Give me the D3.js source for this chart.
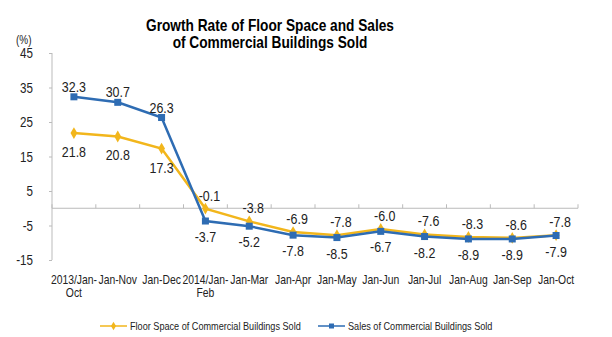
<!DOCTYPE html>
<html><head><meta charset="utf-8">
<script src="https://cdn.jsdelivr.net/npm/d3@7"></script>
<style>body{margin:0;background:#fff}svg{display:block}text{font-family:"Liberation Sans",Arial,sans-serif}</style>
</head><body><svg id="c" width="612" height="337"></svg>
<script>
const categories = [["2013/Jan-","Oct"],["Jan-Nov"],["Jan-Dec"],["2014/Jan-","Feb"],["Jan-Mar"],["Jan-Apr"],["Jan-May"],["Jan-Jun"],["Jan-Jul"],["Jan-Aug"],["Jan-Sep"],["Jan-Oct"]];
const floorSpace = [21.8,20.8,17.3,-0.1,-3.8,-6.9,-7.8,-6.0,-7.6,-8.3,-8.6,-7.8];
const sales = [32.3,30.7,26.3,-3.7,-5.2,-7.8,-8.5,-6.7,-8.2,-8.9,-8.9,-7.9];
const yTicks = [45,35,25,15,5,-5,-15];
const seriesNames = ["Floor Space of Commercial Buildings Sold","Sales of Commercial Buildings  Sold"];
const colors = ["#F2B61C","#2E6CB3"];

const SX = 0.83;
const svg = d3.select("#c");
function txt(parent, x0, y0, s, size, anchor, bold){
  return parent.append("text").attr("transform",`translate(${x0},${y0}) scale(${SX},1)`)
    .attr("font-size",size).attr("text-anchor",anchor||"start").attr("fill","#222")
    .attr("font-weight",bold?"bold":"normal").text(s);
}
const x = d3.scaleBand().domain(d3.range(categories.length)).range([52,578]);
const y = d3.scaleLinear().domain([-15,45]).range([260,53]);

// title
txt(svg,270,31,"Growth Rate of Floor Space and Sales",16.5,"middle",true).attr("fill","#000");
txt(svg,270,48,"of Commercial Buildings Sold",16.5,"middle",true).attr("fill","#000");
txt(svg,16,44,"(%)",12);

// y axis
const ya = svg.append("g").attr("transform","translate(52,0)").call(d3.axisLeft(y).tickValues(yTicks).tickSize(3).tickFormat(""));
ya.select(".domain").attr("stroke","#bbb").attr("d","M0,"+y(45)+"V"+y(-15));
ya.selectAll(".tick line").attr("stroke","#bbb");
yTicks.forEach(t=>txt(svg,33,y(t)+5,String(t),14,"end"));

// zero line
svg.append("line").attr("x1",52).attr("x2",578).attr("y1",y(0)).attr("y2",y(0)).attr("stroke","#bbb");
svg.append("g").selectAll("line").data(d3.range(categories.length+1)).join("line")
  .attr("x1",i=>52+i*x.step()).attr("x2",i=>52+i*x.step()).attr("y1",y(0)).attr("y2",y(0)-4).attr("stroke","#bbb");

// x labels
const cx = i => x(i)+x.bandwidth()/2;
const xl = svg.append("g");
categories.forEach((c,i)=>{
  c.forEach((line,j)=>txt(xl,cx(i),284+j*13,line,12.5,"middle"));
});

const line = d3.line().x((d,i)=>cx(i)).y(d=>y(d));
svg.append("path").datum(floorSpace).attr("d",line).attr("fill","none").attr("stroke",colors[0]).attr("stroke-width",2.5);
svg.append("g").selectAll("path").data(floorSpace).join("path")
  .attr("d",d3.symbol(d3.symbolDiamond,40)).attr("transform",(d,i)=>`translate(${cx(i)},${y(d)})`).attr("fill",colors[0]);
svg.append("path").datum(sales).attr("d",line).attr("fill","none").attr("stroke",colors[1]).attr("stroke-width",2.5);
svg.append("g").selectAll("rect").data(sales).join("rect")
  .attr("x",(d,i)=>cx(i)-3.5).attr("y",d=>y(d)-3.5).attr("width",7).attr("height",7).attr("fill",colors[1]);

// data labels
const lab = svg.append("g");
floorSpace.forEach((d,i)=>txt(lab,i<3 ? cx(i) : cx(i)+4,i<3 ? y(d)+24 : y(d)-8,d.toFixed(1),15,"middle"));
sales.forEach((d,i)=>txt(lab,cx(i),i<3 ? y(d)-5 : y(d)+21,d.toFixed(1),15,"middle"));

// legend
const lg = svg.append("g");
const lx = [100,318];
[0,1].forEach(k=>{
  lg.append("line").attr("x1",lx[k]).attr("x2",lx[k]+27).attr("y1",326).attr("y2",326).attr("stroke",colors[k]).attr("stroke-width",1.5);
  if(k===0) lg.append("path").attr("d",d3.symbol(d3.symbolDiamond,22)).attr("transform",`translate(${lx[k]+13.5},326)`).attr("fill",colors[k]);
  else lg.append("rect").attr("x",lx[k]+11).attr("y",323.5).attr("width",5).attr("height",5).attr("fill",colors[k]);
  txt(lg,lx[k]+30,330,seriesNames[k],11);
});
</script></body></html>
